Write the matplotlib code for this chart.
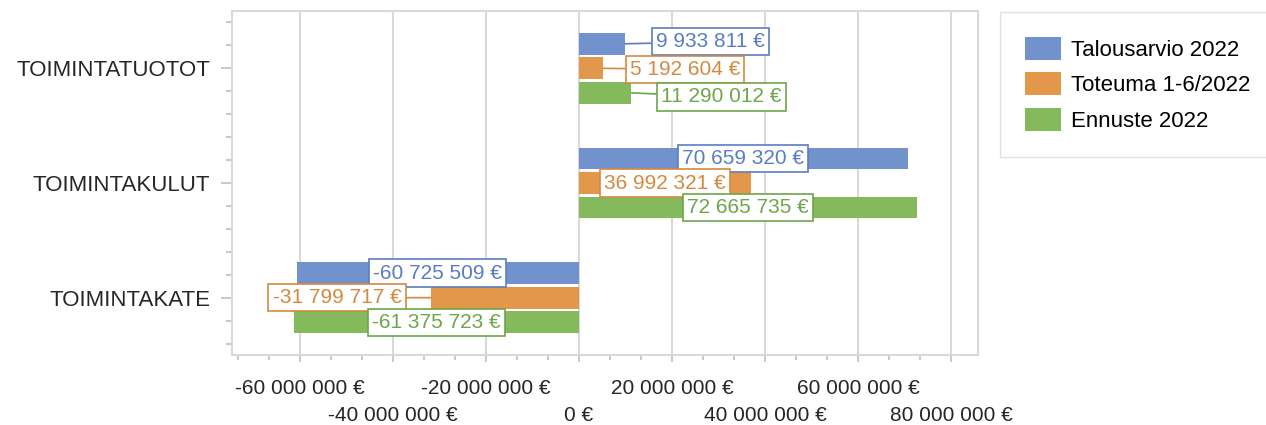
import numpy as np
import matplotlib.pyplot as plt
from matplotlib.ticker import MultipleLocator, FixedLocator

# ----------------------------
# Data
# ----------------------------
categories = ["TOIMINTATUOTOT", "TOIMINTAKULUT", "TOIMINTAKATE"]
series_names = ["Talousarvio 2022", "Toteuma 1-6/2022", "Ennuste 2022"]

talousarvio = [9933811, 70659320, -60725509]
toteuma = [5192604, 36992321, -31799717]
ennuste = [11290012, 72665735, -61375723]

x_ticks = [-60e6, -40e6, -20e6, 0, 20e6, 40e6, 60e6, 80e6]

# ----------------------------
# Style
# ----------------------------
plt.rcParams["font.family"] = ["Liberation Sans", "DejaVu Sans"]

bar_colors = ["#7192CD", "#E2974B", "#84BA5B"]
text_colors = ["#5A7DC2", "#D4893F", "#6DA64B"]
grid_col = "#D9D9D9"

# label displacement in pixels from the bar centre (x right, y down)
# excel moved the labels of the short bars out of the way
label_shift = [
    [(108, -2), (0, 0), (0, 0)],
    [(94, 1), (0, 0), (-168, 0)],
    [(116, 4), (0, 0), (0, 0)],
]


def fmt_eur(v):
    s = f"{abs(v):,.0f}".replace(",", " ") + " €"
    return ("-" if v < 0 else "") + s


fig = plt.figure(figsize=(12.66, 4.25), dpi=100)
ax = fig.add_axes([232 / 1266, 1 - 355 / 425, (978 - 232) / 1266, (355 - 11) / 425])
ax.set_ylim(2.5, -0.5)
ax.set_xlim(-74.6e6, 85.8e6)

y = np.arange(len(categories))
bar_h = 0.19
step = 0.214
all_vals = [talousarvio, toteuma, ennuste]

for i, vals in enumerate(all_vals):
    ypos = y + (i - 1) * step
    ax.barh(ypos, vals, height=bar_h, color=bar_colors[i], label=series_names[i], zorder=3)
    for j, v in enumerate(vals):
        dx, dy = label_shift[i][j]
        box = dict(boxstyle="square,pad=0.2", fc="white", ec=text_colors[i], lw=1.2)
        if dx == 0:
            ax.annotate(fmt_eur(v), xy=(v / 2, ypos[j]), ha="center", va="center",
                        fontsize=15, color=text_colors[i], zorder=5, bbox=box)
        else:
            # offset from bar end to the moved label, leader line back to the bar
            end_px = ax.transData.transform((v, ypos[j]))
            mid_px = ax.transData.transform((v / 2, ypos[j]))
            off = (mid_px[0] - end_px[0] + dx, -dy)
            ax.annotate(fmt_eur(v), xy=(v, ypos[j]), xytext=off, textcoords="offset pixels",
                        ha="center", va="center", fontsize=15, color=text_colors[i],
                        zorder=5, bbox=box,
                        arrowprops=dict(arrowstyle="-", color=text_colors[i], lw=1.2,
                                        shrinkA=0, shrinkB=0))

ax.set_yticks(y)
ax.set_yticklabels(categories, fontsize=16, color="#262626")
ax.yaxis.set_minor_locator(MultipleLocator(0.2))

ax.xaxis.set_major_locator(FixedLocator(x_ticks))
ax.xaxis.set_minor_locator(MultipleLocator(20e6 / 3))
ax.set_xticklabels([fmt_eur(v) for v in x_ticks], fontsize=15, color="#262626")

ax.grid(axis="x", color=grid_col, lw=1.5, zorder=0)
for s in ax.spines.values():
    s.set_color(grid_col)
    s.set_linewidth(1.5)
ax.tick_params(axis="both", which="both", color="#BFBFBF", width=1.2)
ax.tick_params(axis="y", which="major", length=8, pad=7.5)
ax.tick_params(axis="y", which="minor", length=4.3)
ax.tick_params(axis="x", which="major", length=5, pad=12)
ax.tick_params(axis="x", which="minor", length=3.5)

# staggered tick labels: every second one on a lower row
for k, tick in enumerate(ax.xaxis.get_major_ticks()):
    if k % 2 == 1:
        tick.set_pad(32)

fig.legend(loc="upper left", bbox_to_anchor=(1000 / 1266, 1 - 12 / 425),
           fontsize=16, frameon=True, fancybox=False, edgecolor=grid_col,
           handlelength=1.62, handleheight=1.2, handletextpad=0.45,
           labelspacing=0.52, borderpad=1.12, borderaxespad=0)

plt.savefig("out.png", dpi=100)
